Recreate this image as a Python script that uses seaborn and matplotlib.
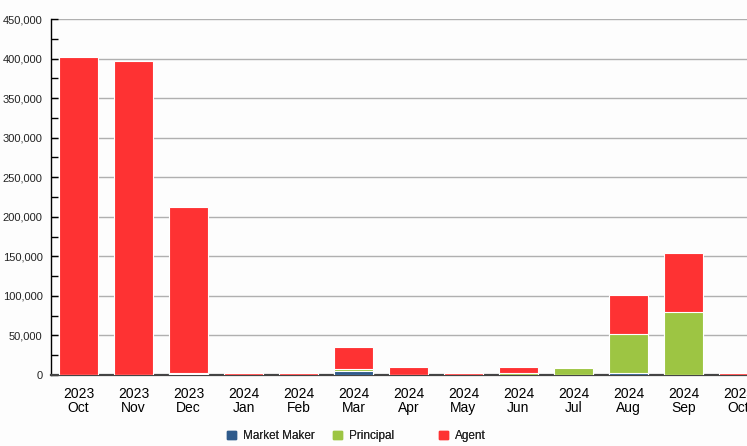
import matplotlib
matplotlib.use("Agg")
import matplotlib.pyplot as plt
import matplotlib.patches as mpatches
from matplotlib.ticker import FuncFormatter, MultipleLocator
import seaborn as sns
import pandas as pd
import numpy as np

years = ["2023", "2023", "2023", "2024", "2024", "2024", "2024", "2024", "2024", "2024", "2024", "2024", "2024"]
months = ["Oct", "Nov", "Dec", "Jan", "Feb", "Mar", "Apr", "May", "Jun", "Jul", "Aug", "Sep", "Oct"]
market_maker = [500, 500, 1500, 300, 300, 5000, 300, 300, 500, 500, 2500, 500, 300]
principal = [0, 0, 500, 0, 0, 2000, 0, 0, 2000, 8000, 49000, 79000, 0]
agent = [401500, 396500, 210500, 2000, 2000, 28500, 9700, 2000, 7500, 1500, 49500, 75000, 2000]
series_names = ["Market Maker", "Principal", "Agent"]

labels = [f"{y}\n{m}" for y, m in zip(years, months)]
df = pd.DataFrame({
    "period": labels,
    "mm": market_maker,
    "pr": principal,
    "ag": agent,
})
df["mm_pr"] = df["mm"] + df["pr"]
df["total"] = df["mm_pr"] + df["ag"]

c_mm = "#2f5b8c"
c_pr = "#9dc543"
c_ag = "#fe3233"

sns.set_theme(style="white")
plt.rcParams["font.family"] = ["Liberation Sans", "DejaVu Sans"]

fig = plt.figure(figsize=(7.47, 4.46), dpi=100, facecolor="#fdfdfd")
ax = fig.add_axes([0.0683, 0.1592, 0.957, 0.798])
ax.set_facecolor("#fdfdfd")

common = dict(x="period", order=labels, width=0.71, edgecolor="white", linewidth=0.8, ax=ax, zorder=3)
sns.barplot(data=df, y="total", color=c_ag, saturation=1, **common)
sns.barplot(data=df, y="mm_pr", color=c_pr, saturation=1, **common)
sns.barplot(data=df, y="mm", color=c_mm, saturation=1, **common)

ax.set_xlim(-0.5, 12.5)
ax.set_ylim(0, 450000)
ax.yaxis.set_major_locator(MultipleLocator(50000))
ax.yaxis.set_minor_locator(MultipleLocator(25000))
ax.yaxis.set_major_formatter(FuncFormatter(lambda v, p: f"{int(v):,}"))
ax.grid(axis="y", which="major", color="#b0b0b0", linewidth=1.0, zorder=0)
ax.set_axisbelow(True)
ax.set_xlabel("")
ax.set_ylabel("")

for s in ["top", "right"]:
    ax.spines[s].set_visible(False)
ax.spines["left"].set_color("black")
ax.spines["left"].set_linewidth(1.0)
ax.spines["bottom"].set_color("#444444")
ax.spines["bottom"].set_linewidth(1.6)

ax.tick_params(axis="y", which="both", direction="in", left=True, length=5, width=1, color="black",
               labelsize=8, labelcolor="#222222", pad=6)
ax.tick_params(axis="x", which="both", bottom=False, labelsize=10, labelcolor="black", pad=3)
for t in ax.get_xticklabels():
    t.set_linespacing(1.0)
    t.set_horizontalalignment("center")

colors = [c_mm, c_pr, c_ag]
xpos = [227, 333, 439]
for name, col, xp in zip(series_names, colors, xpos):
    lg = fig.legend(handles=[mpatches.Patch(color=col, label=name)], loc="center left",
                    bbox_to_anchor=(xp / 747, 0.022), frameon=False, fontsize=8.5,
                    handlelength=0.75, handleheight=0.75, handletextpad=0.6,
                    borderpad=0, borderaxespad=0)
    fig.add_artist(lg)

fig.savefig("out.png", dpi=100, facecolor=fig.get_facecolor())
